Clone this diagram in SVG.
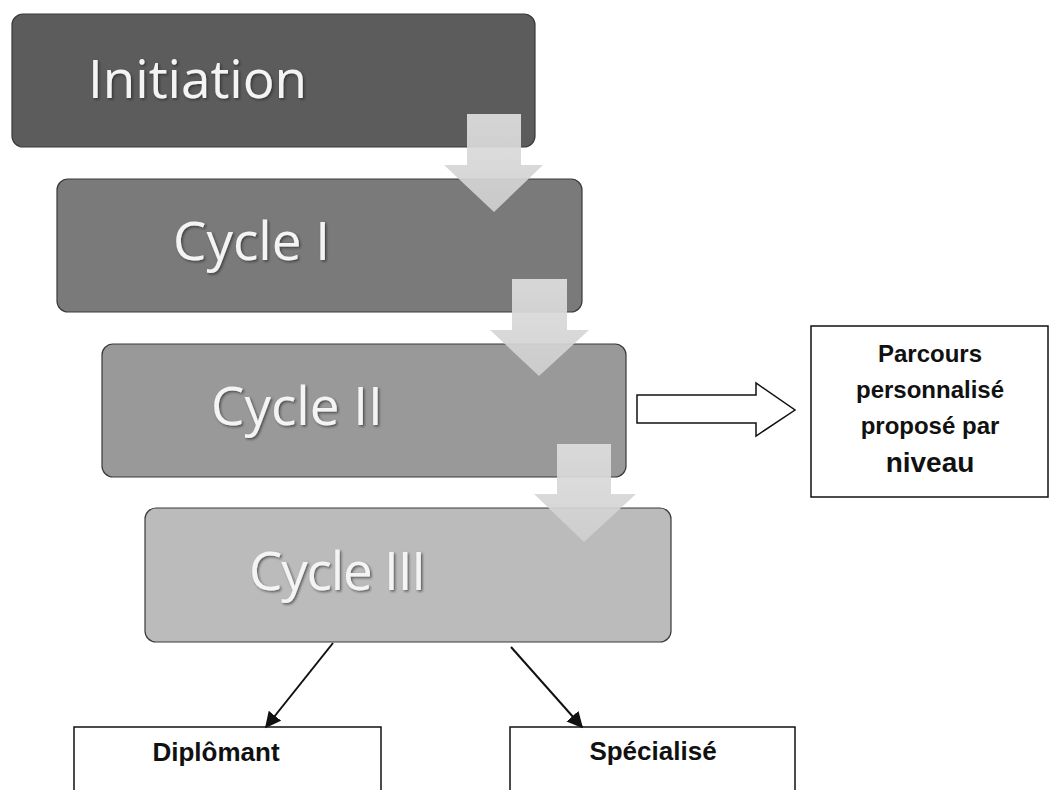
<svg xmlns="http://www.w3.org/2000/svg" width="1051" height="790" viewBox="0 0 1051 790">
  <style>
    .step { stroke: #3a3a3a; stroke-width: 1.2; }
    .steptext { font-family: "Open Sans", "DejaVu Sans", sans-serif; font-size: 53px; fill: #f4f4f4; }
    .down { fill: url(#arrowGrad); fill-opacity: 0.93; }
    .box { fill: #ffffff; stroke: #111111; stroke-width: 1.5; }
    .label { font-family: "Liberation Sans", Arial, sans-serif; font-weight: bold; fill: #111111; text-anchor: middle; }
    .conn { stroke: #111111; stroke-width: 2; fill: none; }
  </style>
  <defs>
    <linearGradient id="arrowGrad" x1="0" y1="0" x2="0" y2="1">
      <stop offset="0" stop-color="#dedede"/>
      <stop offset="1" stop-color="#cfcfcf"/>
    </linearGradient>
    <filter id="tshadow" x="-10%" y="-20%" width="130%" height="150%">
      <feDropShadow dx="1.5" dy="1.5" stdDeviation="1" flood-color="#222222" flood-opacity="0.6"/>
    </filter>
    <marker id="headL" viewBox="0 0 10 10" refX="9" refY="5" markerWidth="8" markerHeight="8" orient="auto">
      <path d="M0,0 L10,5 L0,10 z" fill="#111111"/>
    </marker>
  </defs>

  <rect width="1051" height="790" fill="#ffffff"/>

  <g id="initiation">
    <rect class="step" x="12" y="14" width="523" height="133" rx="11" fill="#5c5c5c"/>
    <text class="steptext" x="88" y="98" filter="url(#tshadow)">Initiation</text>
  </g>
  <g id="cycle1">
    <rect class="step" x="57" y="179" width="525" height="133" rx="11" fill="#7a7a7a"/>
    <text class="steptext" x="173" y="260" filter="url(#tshadow)">Cycle I</text>
  </g>
  <g id="cycle2">
    <rect class="step" x="102" y="344" width="524" height="133" rx="11" fill="#999999"/>
    <text class="steptext" x="211" y="425" filter="url(#tshadow)">Cycle II</text>
  </g>
  <g id="cycle3">
    <rect class="step" x="145" y="508" width="526" height="134" rx="11" fill="#bbbbbb"/>
    <text class="steptext" x="249" y="590" letter-spacing="-1.2" filter="url(#tshadow)">Cycle III</text>
  </g>

  <g id="parcours">
    <rect class="box" x="811" y="326" width="237" height="171"/>
    <text class="label" x="930" y="362" font-size="24">Parcours</text>
    <text class="label" x="930" y="398" font-size="24">personnalisé</text>
    <text class="label" x="930" y="434" font-size="24">proposé par</text>
    <text class="label" x="930" y="472" font-size="28">niveau</text>
  </g>
  <g id="diplomant">
    <rect class="box" x="74" y="727" width="307" height="80"/>
    <text class="label" x="216" y="761" font-size="26">Diplômant</text>
  </g>
  <g id="specialise">
    <rect class="box" x="510" y="727" width="285" height="80"/>
    <text class="label" x="653" y="760" font-size="26">Spécialisé</text>
  </g>

  <g id="connectors">
    <polygon class="down" points="467,114 521,114 521,165 543,165 494,212 444,165 467,165"/>
    <polygon class="down" points="512,279 567,279 567,330 589,330 539,376 490,330 512,330"/>
    <polygon class="down" points="557,444 611,444 611,494 636,494 584,542 534,494 557,494"/>
    <polygon points="637,395 756,395 756,383 795,410 756,436 756,423 637,423" fill="#ffffff" stroke="#111111" stroke-width="1.5"/>
    <line class="conn" x1="333" y1="643" x2="266" y2="727" marker-end="url(#headL)"/>
    <line class="conn" x1="511" y1="647" x2="582" y2="727" marker-end="url(#headL)"/>
  </g>
</svg>
